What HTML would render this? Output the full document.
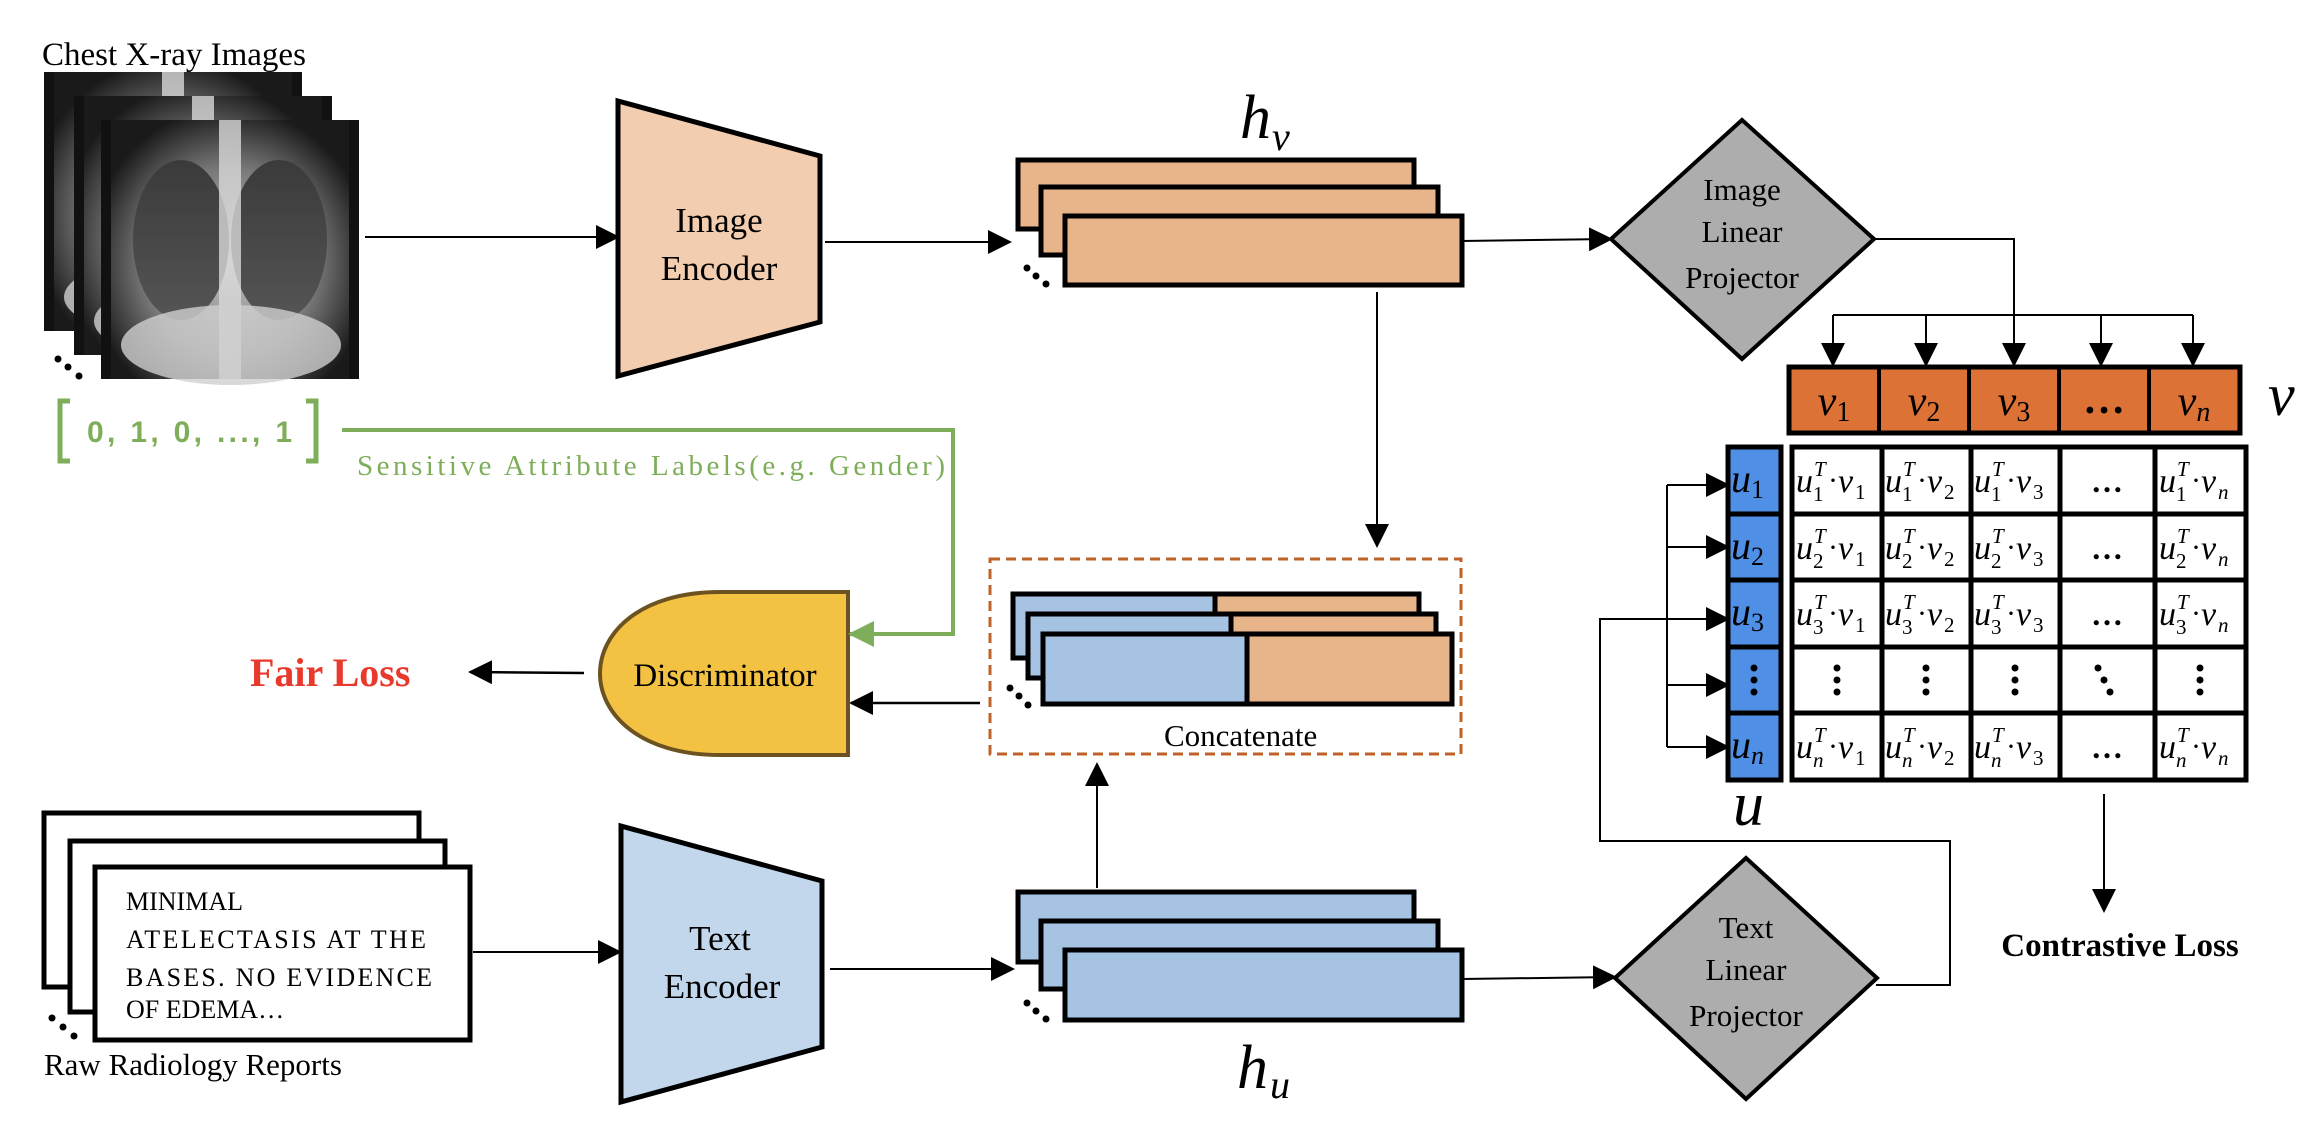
<!DOCTYPE html>
<html><head><meta charset="utf-8"><style>
body{margin:0;background:#fff}
svg{display:block}
.t{font-family:"Liberation Serif",serif}
.m{font-family:"Liberation Serif",serif;font-style:italic}
.c text{font-family:"Liberation Serif",serif;font-style:italic;font-size:34px}
.c .s{font-size:21px}
.c .n{font-size:21px;font-style:normal}
.c .d{font-size:30px;font-style:normal}
</style></head><body>
<svg width="2320" height="1134" viewBox="0 0 2320 1134" xmlns="http://www.w3.org/2000/svg">
<defs>
<marker id="a" markerUnits="userSpaceOnUse" markerWidth="24" markerHeight="24" refX="22" refY="12" orient="auto"><path d="M0,0 L24,12 L0,24 Z" fill="#000"/></marker>
<marker id="g" markerUnits="userSpaceOnUse" markerWidth="26" markerHeight="26" refX="24" refY="13" orient="auto"><path d="M0,0 L26,13 L0,26 Z" fill="#7eae5a"/></marker>
<radialGradient id="xr" cx="50%" cy="55%" r="60%"><stop offset="0" stop-color="#c8c8c8"/><stop offset="0.6" stop-color="#7a7a7a"/><stop offset="1" stop-color="#1a1a1a"/></radialGradient>
<linearGradient id="lung" x1="0" y1="0" x2="0" y2="1"><stop offset="0" stop-color="#3a3a3a"/><stop offset="1" stop-color="#555"/></linearGradient>
<g id="xray">
<rect x="0" y="0" width="258" height="259" fill="#111"/>
<rect x="10" y="0" width="238" height="259" fill="url(#xr)"/>
<ellipse cx="80" cy="120" rx="48" ry="80" fill="url(#lung)"/>
<ellipse cx="178" cy="120" rx="48" ry="80" fill="url(#lung)"/>
<rect x="118" y="0" width="22" height="259" fill="#d8d8d8" opacity="0.8"/>
<ellipse cx="130" cy="225" rx="110" ry="40" fill="#cfcfcf" opacity="0.8"/>
</g>
</defs>

<text x="42" y="65" class="t" font-size="33">Chest X-ray Images</text>
<use href="#xray" x="44" y="72"/>
<use href="#xray" x="74" y="96"/>
<use href="#xray" x="101" y="120"/>
<circle cx="58" cy="359" r="3.5"/><circle cx="68" cy="367" r="3.5"/><circle cx="79" cy="376" r="3.5"/>

<line x1="365" y1="237" x2="618" y2="237" stroke="#000" stroke-width="2" marker-end="url(#a)"/>

<polygon points="618,101 820,156 820,322 618,376" fill="#f2cdb0" stroke="#000" stroke-width="5"/>
<text x="719" y="232" class="t" font-size="35" text-anchor="middle">Image</text>
<text x="719" y="280" class="t" font-size="35" text-anchor="middle">Encoder</text>
<line x1="825" y1="242" x2="1010" y2="242" stroke="#000" stroke-width="2" marker-end="url(#a)"/>

<rect x="1018" y="160" width="396" height="69" fill="#e8b48a" stroke="#000" stroke-width="5"/>
<rect x="1041" y="187" width="397" height="68" fill="#e8b48a" stroke="#000" stroke-width="5"/>
<rect x="1065" y="216" width="397" height="69" fill="#e8b48a" stroke="#000" stroke-width="5"/>
<circle cx="1027" cy="268" r="3.5"/><circle cx="1036" cy="276" r="3.5"/><circle cx="1046" cy="284" r="3.5"/>
<text x="1240" y="138" class="m" font-size="62">h</text><text x="1272" y="150" class="m" font-size="40">v</text>

<line x1="1462" y1="241" x2="1611" y2="239" stroke="#000" stroke-width="2" marker-end="url(#a)"/>
<polygon points="1742,120 1874,239 1742,359 1611,239" fill="#adadad" stroke="#000" stroke-width="4"/>
<text x="1742" y="200" class="t" font-size="31" text-anchor="middle">Image</text>
<text x="1742" y="242" class="t" font-size="31" text-anchor="middle">Linear</text>
<text x="1742" y="288" class="t" font-size="31" text-anchor="middle">Projector</text>

<polyline points="1874,239 2014,239 2014,365" fill="none" stroke="#000" stroke-width="2" marker-end="url(#a)"/>
<line x1="1833" y1="315" x2="2193" y2="315" stroke="#000" stroke-width="2"/>
<line x1="1833" y1="315" x2="1833" y2="365" stroke="#000" stroke-width="2" marker-end="url(#a)"/>
<line x1="1926" y1="315" x2="1926" y2="365" stroke="#000" stroke-width="2" marker-end="url(#a)"/>
<line x1="2101" y1="315" x2="2101" y2="365" stroke="#000" stroke-width="2" marker-end="url(#a)"/>
<line x1="2193" y1="315" x2="2193" y2="365" stroke="#000" stroke-width="2" marker-end="url(#a)"/>

<rect x="1789" y="367" width="451" height="66" fill="#dd7236" stroke="#000" stroke-width="5"/>
<g stroke="#000" stroke-width="4"><line x1="1879" y1="367" x2="1879" y2="433"/><line x1="1969" y1="367" x2="1969" y2="433"/><line x1="2059" y1="367" x2="2059" y2="433"/><line x1="2149" y1="367" x2="2149" y2="433"/></g>
<g class="m" font-size="42" text-anchor="middle">
<text x="1834" y="415">v<tspan font-size="28" font-style="normal" dy="6">1</tspan></text>
<text x="1924" y="415">v<tspan font-size="28" font-style="normal" dy="6">2</tspan></text>
<text x="2014" y="415">v<tspan font-size="28" font-style="normal" dy="6">3</tspan></text>
<text x="2104" y="413" font-style="normal" font-weight="bold">…</text>
<text x="2194" y="415">v<tspan font-size="28" dy="6">n</tspan></text>
</g>
<text x="2268" y="415" class="m" font-size="60">v</text>

<rect x="1728" y="447" width="53" height="333" fill="#4f90e6" stroke="#000" stroke-width="5"/>
<g stroke="#000" stroke-width="5"><line x1="1728" y1="514" x2="1781" y2="514"/><line x1="1728" y1="580" x2="1781" y2="580"/><line x1="1728" y1="647" x2="1781" y2="647"/><line x1="1728" y1="713" x2="1781" y2="713"/></g>
<g class="m" font-size="40">
<text x="1731" y="492">u<tspan font-size="26" font-style="normal" dy="6">1</tspan></text>
<text x="1731" y="559">u<tspan font-size="26" font-style="normal" dy="6">2</tspan></text>
<text x="1731" y="625">u<tspan font-size="26" font-style="normal" dy="6">3</tspan></text>
<text x="1731" y="758">u<tspan font-size="26" dy="6">n</tspan></text>
</g>
<circle cx="1754" cy="668" r="3.5"/><circle cx="1754" cy="680" r="3.5"/><circle cx="1754" cy="692" r="3.5"/>
<text x="1733" y="825" class="m" font-size="62">u</text>

<polyline points="1667,485 1667,747" fill="none" stroke="#000" stroke-width="2"/>
<line x1="1667" y1="485" x2="1728" y2="485" stroke="#000" stroke-width="2" marker-end="url(#a)"/>
<line x1="1667" y1="547" x2="1728" y2="547" stroke="#000" stroke-width="2" marker-end="url(#a)"/>
<line x1="1667" y1="685" x2="1728" y2="685" stroke="#000" stroke-width="2" marker-end="url(#a)"/>
<line x1="1667" y1="747" x2="1728" y2="747" stroke="#000" stroke-width="2" marker-end="url(#a)"/>
<polyline points="1876,985 1950,985 1950,841 1600,841 1600,619 1728,619" fill="none" stroke="#000" stroke-width="2" marker-end="url(#a)"/>

<rect x="1792" y="447" width="454" height="333" fill="#fff" stroke="#000" stroke-width="5"/>
<g stroke="#000" stroke-width="5">
<line x1="1792" y1="514" x2="2246" y2="514"/><line x1="1792" y1="580" x2="2246" y2="580"/><line x1="1792" y1="647" x2="2246" y2="647"/><line x1="1792" y1="713" x2="2246" y2="713"/>
<line x1="1882" y1="447" x2="1882" y2="780"/><line x1="1971" y1="447" x2="1971" y2="780"/><line x1="2060" y1="447" x2="2060" y2="780"/><line x1="2155" y1="447" x2="2155" y2="780"/>
</g>
<g class="c">
<!-- row 1 -->
<g transform="translate(1794,492)"><text x="2">u</text><text class="s" x="20" y="-16">T</text><text class="n" x="19" y="9">1</text><text class="d" x="34" y="-2">·</text><text x="44">v</text><text class="n" x="61" y="7">1</text></g>
<g transform="translate(1883,492)"><text x="2">u</text><text class="s" x="20" y="-16">T</text><text class="n" x="19" y="9">1</text><text class="d" x="34" y="-2">·</text><text x="44">v</text><text class="n" x="61" y="7">2</text></g>
<g transform="translate(1972,492)"><text x="2">u</text><text class="s" x="20" y="-16">T</text><text class="n" x="19" y="9">1</text><text class="d" x="34" y="-2">·</text><text x="44">v</text><text class="n" x="61" y="7">3</text></g>
<g transform="translate(2157,492)"><text x="2">u</text><text class="s" x="20" y="-16">T</text><text class="n" x="19" y="9">1</text><text class="d" x="34" y="-2">·</text><text x="44">v</text><text class="s" x="61" y="7">n</text></g>
<!-- row 2 -->
<g transform="translate(1794,559)"><text x="2">u</text><text class="s" x="20" y="-16">T</text><text class="n" x="19" y="9">2</text><text class="d" x="34" y="-2">·</text><text x="44">v</text><text class="n" x="61" y="7">1</text></g>
<g transform="translate(1883,559)"><text x="2">u</text><text class="s" x="20" y="-16">T</text><text class="n" x="19" y="9">2</text><text class="d" x="34" y="-2">·</text><text x="44">v</text><text class="n" x="61" y="7">2</text></g>
<g transform="translate(1972,559)"><text x="2">u</text><text class="s" x="20" y="-16">T</text><text class="n" x="19" y="9">2</text><text class="d" x="34" y="-2">·</text><text x="44">v</text><text class="n" x="61" y="7">3</text></g>
<g transform="translate(2157,559)"><text x="2">u</text><text class="s" x="20" y="-16">T</text><text class="n" x="19" y="9">2</text><text class="d" x="34" y="-2">·</text><text x="44">v</text><text class="s" x="61" y="7">n</text></g>
<!-- row 3 -->
<g transform="translate(1794,625)"><text x="2">u</text><text class="s" x="20" y="-16">T</text><text class="n" x="19" y="9">3</text><text class="d" x="34" y="-2">·</text><text x="44">v</text><text class="n" x="61" y="7">1</text></g>
<g transform="translate(1883,625)"><text x="2">u</text><text class="s" x="20" y="-16">T</text><text class="n" x="19" y="9">3</text><text class="d" x="34" y="-2">·</text><text x="44">v</text><text class="n" x="61" y="7">2</text></g>
<g transform="translate(1972,625)"><text x="2">u</text><text class="s" x="20" y="-16">T</text><text class="n" x="19" y="9">3</text><text class="d" x="34" y="-2">·</text><text x="44">v</text><text class="n" x="61" y="7">3</text></g>
<g transform="translate(2157,625)"><text x="2">u</text><text class="s" x="20" y="-16">T</text><text class="n" x="19" y="9">3</text><text class="d" x="34" y="-2">·</text><text x="44">v</text><text class="s" x="61" y="7">n</text></g>
<!-- row n -->
<g transform="translate(1794,758)"><text x="2">u</text><text class="s" x="20" y="-16">T</text><text class="s" x="19" y="9">n</text><text class="d" x="34" y="-2">·</text><text x="44">v</text><text class="n" x="61" y="7">1</text></g>
<g transform="translate(1883,758)"><text x="2">u</text><text class="s" x="20" y="-16">T</text><text class="s" x="19" y="9">n</text><text class="d" x="34" y="-2">·</text><text x="44">v</text><text class="n" x="61" y="7">2</text></g>
<g transform="translate(1972,758)"><text x="2">u</text><text class="s" x="20" y="-16">T</text><text class="s" x="19" y="9">n</text><text class="d" x="34" y="-2">·</text><text x="44">v</text><text class="n" x="61" y="7">3</text></g>
<g transform="translate(2157,758)"><text x="2">u</text><text class="s" x="20" y="-16">T</text><text class="s" x="19" y="9">n</text><text class="d" x="34" y="-2">·</text><text x="44">v</text><text class="s" x="61" y="7">n</text></g>
</g>
<g font-family="Liberation Serif" font-weight="bold" font-size="32" text-anchor="middle">
<text x="2107" y="492">…</text><text x="2107" y="559">…</text><text x="2107" y="625">…</text><text x="2107" y="758">…</text>
</g>
<g fill="#000">
<circle cx="1837" cy="668" r="3.5"/><circle cx="1837" cy="680" r="3.5"/><circle cx="1837" cy="692" r="3.5"/>
<circle cx="1926" cy="668" r="3.5"/><circle cx="1926" cy="680" r="3.5"/><circle cx="1926" cy="692" r="3.5"/>
<circle cx="2015" cy="668" r="3.5"/><circle cx="2015" cy="680" r="3.5"/><circle cx="2015" cy="692" r="3.5"/>
<circle cx="2098" cy="668" r="3.5"/><circle cx="2104" cy="680" r="3.5"/><circle cx="2110" cy="692" r="3.5"/>
<circle cx="2200" cy="668" r="3.5"/><circle cx="2200" cy="680" r="3.5"/><circle cx="2200" cy="692" r="3.5"/>
</g>

<line x1="2104" y1="794" x2="2104" y2="911" stroke="#000" stroke-width="2" marker-end="url(#a)"/>
<text x="2120" y="956" class="t" font-size="33" font-weight="bold" text-anchor="middle">Contrastive Loss</text>

<line x1="1377" y1="292" x2="1377" y2="546" stroke="#000" stroke-width="2" marker-end="url(#a)"/>
<rect x="990" y="559" width="471" height="195" fill="none" stroke="#c0612a" stroke-width="3" stroke-dasharray="10,6"/>
<rect x="1013" y="594" width="202" height="64" fill="#a6c3e3" stroke="#000" stroke-width="5"/>
<rect x="1215" y="594" width="204" height="64" fill="#e8b48a" stroke="#000" stroke-width="5"/>
<rect x="1028" y="614" width="203" height="64" fill="#a6c3e3" stroke="#000" stroke-width="5"/>
<rect x="1231" y="614" width="205" height="64" fill="#e8b48a" stroke="#000" stroke-width="5"/>
<rect x="1043" y="634" width="204" height="70" fill="#a6c3e3" stroke="#000" stroke-width="5"/>
<rect x="1247" y="634" width="205" height="70" fill="#e8b48a" stroke="#000" stroke-width="5"/>
<circle cx="1010" cy="688" r="3.5"/><circle cx="1019" cy="696" r="3.5"/><circle cx="1028" cy="705" r="3.5"/>
<text x="1164" y="746" class="t" font-size="31">Concatenate</text>
<line x1="1097" y1="888" x2="1097" y2="764" stroke="#000" stroke-width="2" marker-end="url(#a)"/>
<line x1="980" y1="703" x2="851" y2="703" stroke="#000" stroke-width="2.5" marker-end="url(#a)"/>

<path d="M848,592 L848,755 L720,755 C560,755 560,592 720,592 Z" fill="#f4c242" stroke="#6b5220" stroke-width="4"/>
<text x="725" y="686" class="t" font-size="33" text-anchor="middle">Discriminator</text>
<line x1="584" y1="673" x2="470" y2="672" stroke="#000" stroke-width="2.5" marker-end="url(#a)"/>
<text x="250" y="686" class="t" font-size="40" font-weight="bold" fill="#e8392c">Fair Loss</text>

<path d="M70,401 L60,401 L60,461 L70,461 M306,401 L316,401 L316,461 L306,461" fill="none" stroke="#7eae5a" stroke-width="5"/>
<text x="87" y="442" font-family="Liberation Sans,sans-serif" font-weight="bold" font-size="30" fill="#7eae5a" textLength="205">0, 1, 0,  ..., 1</text>
<polyline points="342,430 953,430 953,634 850,634" fill="none" stroke="#7eae5a" stroke-width="4" marker-end="url(#g)"/>
<text x="357" y="475" class="t" font-size="29" fill="#7eae5a" textLength="588">Sensitive Attribute Labels(e.g. Gender)</text>

<rect x="44" y="813" width="375" height="174" fill="#fff" stroke="#000" stroke-width="5"/>
<rect x="70" y="841" width="375" height="171" fill="#fff" stroke="#000" stroke-width="5"/>
<rect x="95" y="867" width="375" height="173" fill="#fff" stroke="#000" stroke-width="5"/>
<g class="t" font-size="26">
<text x="126" y="910">MINIMAL</text>
<text x="126" y="948" textLength="300">ATELECTASIS AT THE</text>
<text x="126" y="986" textLength="306">BASES.  NO EVIDENCE</text>
<text x="126" y="1018">OF EDEMA…</text>
</g>
<circle cx="52" cy="1018" r="3.5"/><circle cx="63" cy="1027" r="3.5"/><circle cx="74" cy="1036" r="3.5"/>
<text x="44" y="1075" class="t" font-size="31">Raw Radiology Reports</text>
<line x1="473" y1="952" x2="620" y2="952" stroke="#000" stroke-width="2" marker-end="url(#a)"/>

<polygon points="621,826 822,881 822,1047 621,1102" fill="#c2d7ec" stroke="#000" stroke-width="5"/>
<text x="720" y="950" class="t" font-size="35" text-anchor="middle">Text</text>
<text x="722" y="998" class="t" font-size="35" text-anchor="middle">Encoder</text>
<line x1="830" y1="969" x2="1013" y2="969" stroke="#000" stroke-width="2" marker-end="url(#a)"/>

<rect x="1018" y="892" width="396" height="70" fill="#a6c3e3" stroke="#000" stroke-width="5"/>
<rect x="1041" y="921" width="397" height="68" fill="#a6c3e3" stroke="#000" stroke-width="5"/>
<rect x="1065" y="950" width="397" height="70" fill="#a6c3e3" stroke="#000" stroke-width="5"/>
<circle cx="1027" cy="1003" r="3.5"/><circle cx="1036" cy="1011" r="3.5"/><circle cx="1046" cy="1019" r="3.5"/>
<text x="1237" y="1088" class="m" font-size="62">h</text><text x="1270" y="1098" class="m" font-size="40">u</text>

<line x1="1462" y1="979" x2="1615" y2="977" stroke="#000" stroke-width="2" marker-end="url(#a)"/>
<polygon points="1746,858 1877,978 1746,1099 1615,978" fill="#adadad" stroke="#000" stroke-width="4"/>
<text x="1746" y="938" class="t" font-size="31" text-anchor="middle">Text</text>
<text x="1746" y="980" class="t" font-size="31" text-anchor="middle">Linear</text>
<text x="1746" y="1026" class="t" font-size="31" text-anchor="middle">Projector</text>
</svg>
</body></html>
